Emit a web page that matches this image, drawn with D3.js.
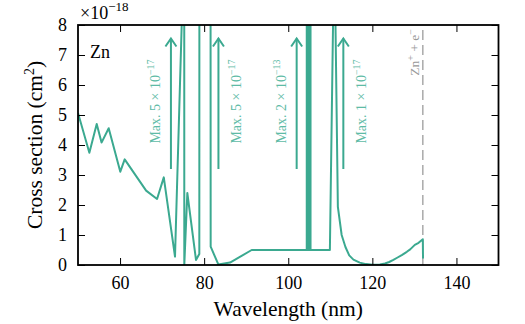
<!DOCTYPE html>
<html>
<head>
<meta charset="utf-8">
<script src="https://cdn.jsdelivr.net/npm/d3@7"></script>
<style>
  body { margin: 0; background: #fff; }
</style>
</head>
<body>
<script>
// cross section of Zn, values in units of 1e-18 cm^2
var wavelength = [50, 52.7, 54.45, 55.6, 57.3, 60.06, 61.1, 66.2, 68.8, 70.4,
  73.07, 74.7, 74.8, 75.2, 75.28, 76.0, 78.06, 78.85, 78.95, 81.4, 81.55,
  83.37, 86.15, 91.3, 104.4, 104.5, 104.62, 104.75, 104.88, 105.0, 105.12, 105.25, 105.3,
  109.9, 110.85, 111.05, 111.8, 112.7, 113.6, 114.5, 115.5, 117, 118.5, 120,
  121.8, 123, 124, 125, 126, 127, 128.2, 129, 130.1, 131, 132.0, 132.05];
var cross_section = [5.07, 3.74, 4.7, 4.08, 4.56, 3.11, 3.52, 2.48, 2.2, 2.92,
  0.28, 8.2, 50, 50, 0, 2.4, 0.17, 0.37, 50, 50, 0.61,
  0.02, 0.08, 0.5, 0.5, 200000, 0.5, 200000, 0.5, 200000, 0.5, 200000, 0.5,
  0.5, 10, 10, 1.94, 1.0, 0.6, 0.32, 0.18, 0.08, 0.03, 0.01,
  0.02, 0.05, 0.1, 0.17, 0.25, 0.33, 0.44, 0.52, 0.67, 0.74, 0.86, 0.22];

// off-scale maxima
var max_pos = [72.1, 83.4, 102, 113.1];
var max_mant = ["5", "5", "2", "1"];
var max_exp = ["\u221217", "\u221217", "\u221213", "\u221217"];
var max_side = ["left", "right", "left", "right"];

var ion_limit = 132.0;
var ion_label = "Zn";

var x_ticks = [60, 80, 100, 120, 140];
var y_ticks = [0, 1, 2, 3, 4, 5, 6, 7, 8];

var draw_chart = function() {
  var w = 525, h = 324;
  var pl = 78, pr = 498.5, pt = 25, pb = 265;
  var teal = "#3ba990";
  var serif = "'Liberation Serif', 'Times New Roman', serif";

  var x = d3.scaleLinear().domain([50, 150]).range([pl, pr]);
  var y = d3.scaleLinear().domain([0, 8]).range([pb, pt]);

  var svg = d3.select("body").append("svg")
    .attr("width", w)
    .attr("height", h)
    .style("font-family", serif);

  svg.append("clipPath").attr("id", "plot")
    .append("rect")
    .attr("x", pl).attr("y", pt)
    .attr("width", pr - pl).attr("height", pb - pt);

  var data = wavelength.map(function(d, i) {
    return {x: d, y: cross_section[i]};
  });

  var line = d3.line()
    .x(function(d) { return x(d.x); })
    .y(function(d) { return y(d.y); });

  // ionisation limit
  svg.append("line")
    .attr("x1", x(ion_limit)).attr("x2", x(ion_limit))
    .attr("y1", y(0)).attr("y2", y(8))
    .attr("stroke", "#aaaaaa")
    .attr("stroke-width", 1.5)
    .attr("stroke-dasharray", "10,5");

  var ion = svg.append("text")
    .attr("transform", "translate(" + (x(ion_limit) - 4) + "," + (pt + 4) + ") rotate(-90)")
    .attr("text-anchor", "end")
    .attr("font-size", 13.5)
    .attr("fill", "#999999");
  ion.append("tspan").text(ion_label);
  ion.append("tspan").attr("dy", -5).attr("font-size", 10).text("+");
  ion.append("tspan").attr("dy", 5).text(" + e");
  ion.append("tspan").attr("dy", -5).attr("font-size", 10).text("\u2212");

  svg.append("path")
    .datum(data)
    .attr("clip-path", "url(#plot)")
    .attr("d", line)
    .attr("fill", "none")
    .attr("stroke", teal)
    .attr("stroke-width", 2)
    .attr("stroke-linejoin", "round");

  // arrows with maxima
  max_pos.forEach(function(p, i) {
    var ax = x(p);
    var y0 = y(3.2), y1 = y(7.55);
    svg.append("line")
      .attr("x1", ax).attr("x2", ax)
      .attr("y1", y0).attr("y2", y1)
      .attr("stroke", teal).attr("stroke-width", 2);
    svg.append("path")
      .attr("d", "M" + (ax - 5.5) + "," + (y1 + 8) + "L" + ax + "," + y1 + "L" + (ax + 5.5) + "," + (y1 + 8))
      .attr("fill", "none")
      .attr("stroke", teal).attr("stroke-width", 2);
    var tx = max_side[i] == "left" ? ax - 11 : ax + 23;
    var t = svg.append("text")
      .attr("transform", "translate(" + tx + "," + y(5.45) + ") rotate(-90)")
      .attr("text-anchor", "middle")
      .attr("font-size", 14)
      .attr("fill", "#5ebba6");
    t.append("tspan").text("Max. " + max_mant[i] + " \u00d7 10");
    t.append("tspan").attr("dy", -6).attr("font-size", 10).text(max_exp[i]);
  });

  // axes, ticks inward on all sides
  var ax_b = svg.append("g")
    .attr("transform", "translate(0," + pb + ")")
    .call(d3.axisBottom(x).tickValues(x_ticks).tickSize(-7).tickPadding(11));
  var ax_t = svg.append("g")
    .attr("transform", "translate(0," + pt + ")")
    .call(d3.axisTop(x).tickValues(x_ticks).tickSize(-7).tickFormat(""));
  var ax_l = svg.append("g")
    .attr("transform", "translate(" + pl + ",0)")
    .call(d3.axisLeft(y).tickValues(y_ticks).tickSize(-7).tickPadding(11));
  var ax_r = svg.append("g")
    .attr("transform", "translate(" + pr + ",0)")
    .call(d3.axisRight(y).tickValues(y_ticks).tickSize(-7).tickFormat(""));

  [ax_b, ax_t, ax_l, ax_r].forEach(function(g) {
    g.attr("font-family", null);
    g.select(".domain").remove();
    g.selectAll(".tick line").attr("stroke", "#000").attr("stroke-width", 1);
    g.selectAll("text")
      .attr("font-size", 18)
      .attr("fill", "#000");
  });

  svg.append("rect")
    .attr("x", pl).attr("y", pt)
    .attr("width", pr - pl).attr("height", pb - pt)
    .attr("fill", "none")
    .attr("stroke", "#000")
    .attr("stroke-width", 1.8);

  // labels
  svg.append("text")
    .attr("x", (pl + pr) / 2)
    .attr("y", 316)
    .attr("text-anchor", "middle")
    .attr("font-size", 21.5)
    .text("Wavelength (nm)");

  var yl = svg.append("text")
    .attr("transform", "translate(42," + ((pt + pb) / 2) + ") rotate(-90)")
    .attr("text-anchor", "middle")
    .attr("font-size", 21.5);
  yl.append("tspan").text("Cross section (cm");
  yl.append("tspan").attr("dy", -8).attr("font-size", 14).text("2");
  yl.append("tspan").attr("dy", 8).text(")");

  var ex = svg.append("text")
    .attr("x", 80)
    .attr("y", 19)
    .attr("font-size", 18);
  ex.append("tspan").text("\u00d710");
  ex.append("tspan").attr("dy", -8).attr("font-size", 13).text("\u221218");

  svg.append("text")
    .attr("x", 90)
    .attr("y", 58)
    .attr("font-size", 18)
    .text("Zn");

  svg.selectAll("text").style("font-family", serif);
};

draw_chart();
</script>
</body>
</html>
